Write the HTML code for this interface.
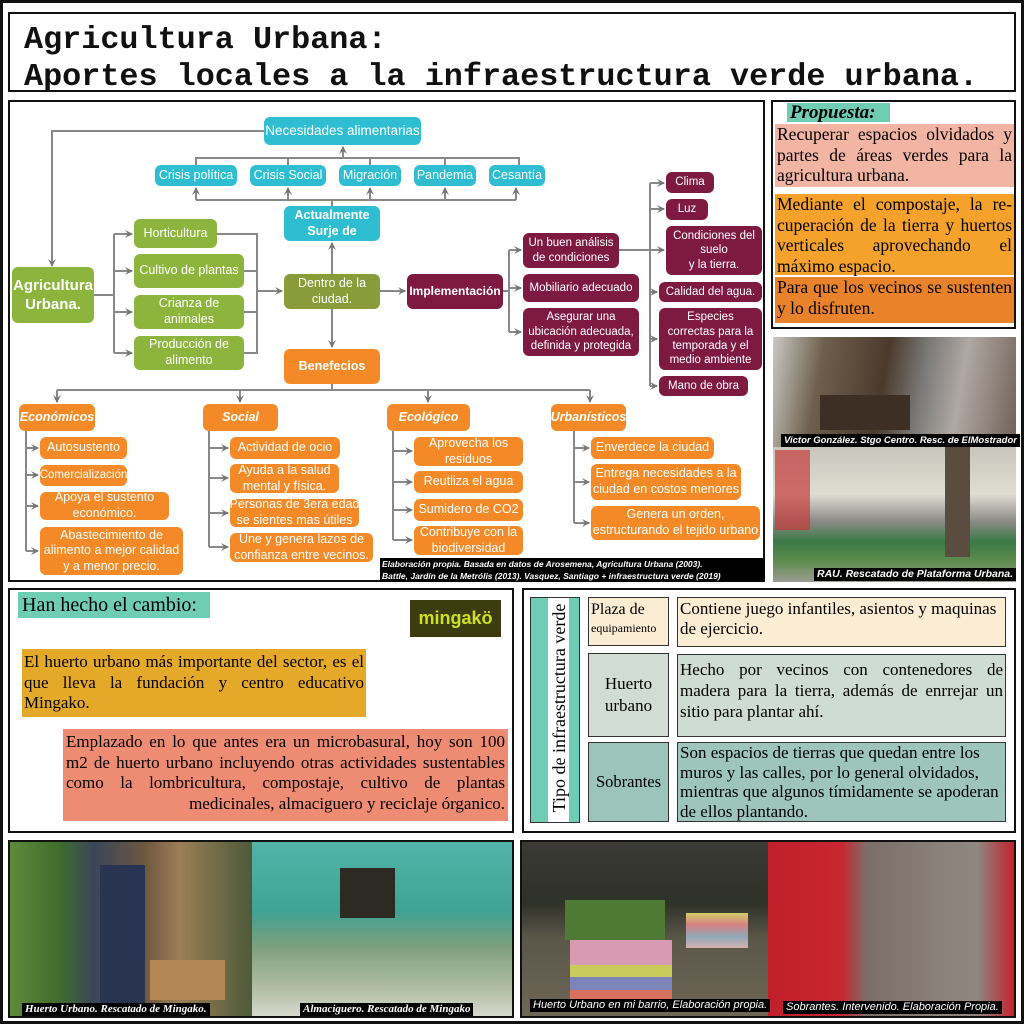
<!DOCTYPE html>
<html><head><meta charset="utf-8">
<style>
*{margin:0;padding:0;box-sizing:border-box}
body{width:1024px;height:1024px;position:relative;background:#fff;overflow:hidden;font-family:"Liberation Sans",sans-serif}
.a{position:absolute}
.box{position:absolute;border:2.5px solid #111;background:#fff}
.n{position:absolute;display:flex;align-items:center;justify-content:center;text-align:center;color:#fff;border-radius:6px;font-size:12.5px;line-height:1.25;white-space:nowrap}
.c{background:#2ebdd1}.g{background:#8db43c}.o{background:#8a9c3a}.m{background:#7e1a40}.f{background:#f48a27}
.ser{font-family:"Liberation Serif",serif}
.cap{position:absolute;background:#000;color:#fff;font-weight:bold;font-style:italic;font-size:10px;white-space:nowrap;padding:0 3px;line-height:13px}
.j{text-align:justify;text-align-last:left}
</style></head><body>
<div class="a" style="left:0;top:0;width:1024px;height:1024px;border:3px solid #111"></div>
<div class="box" style="left:8px;top:12px;width:1008px;height:80px"></div>
<div class="a" style="left:24px;top:22px;font-family:'Liberation Mono',monospace;font-weight:bold;font-size:31.8px;line-height:37px;white-space:pre;color:#111">Agricultura Urbana:
Aportes locales a la infraestructura verde urbana.</div>

<div class="box" style="left:8px;top:100px;width:757px;height:482px"></div>
<svg class="a" style="left:0;top:0" width="1024" height="1024">
<defs><marker id="ar" markerWidth="8" markerHeight="8" refX="7" refY="4" orient="auto" markerUnits="userSpaceOnUse"><path d="M0,0 L8,4 L0,8 L3,4z" fill="#777"/></marker></defs>
<g stroke="#888" stroke-width="2" fill="none">
<path d="M264,131 H52 V266" marker-end="url(#ar)"/>
<path d="M196,165 V158 H519 V165 M288,158 V165 M370,158 V165 M445,158 V165"/>
<path d="M343,158 V147" marker-end="url(#ar)"/>
<path d="M196,200 H516 M332,200 V206"/>
<path d="M196,200 V188" marker-end="url(#ar)"/><path d="M288,200 V188" marker-end="url(#ar)"/><path d="M370,200 V188" marker-end="url(#ar)"/><path d="M445,200 V188" marker-end="url(#ar)"/><path d="M516,200 V188" marker-end="url(#ar)"/>
<path d="M332,274 V243" marker-end="url(#ar)"/>
<path d="M332,309 V347" marker-end="url(#ar)"/>
<path d="M380,291 H405" marker-end="url(#ar)"/>
<path d="M94,295 H114 M114,234 V353"/>
<path d="M114,234 H132" marker-end="url(#ar)"/><path d="M114,271 H132" marker-end="url(#ar)"/><path d="M114,312 H132" marker-end="url(#ar)"/><path d="M114,353 H132" marker-end="url(#ar)"/>
<path d="M217,234 H257 V353 H244 M244,271 H257 M244,312 H257"/>
<path d="M257,291 H282" marker-end="url(#ar)"/>
<path d="M503,291 H509 M509,250 V332"/>
<path d="M509,250 H521" marker-end="url(#ar)"/><path d="M509,288 H521" marker-end="url(#ar)"/><path d="M509,332 H521" marker-end="url(#ar)"/>
<path d="M619,250 H664" marker-end="url(#ar)"/>
<path d="M650,183 V386"/>
<path d="M650,183 H664" marker-end="url(#ar)"/><path d="M650,209 H664" marker-end="url(#ar)"/><path d="M650,292 H657" marker-end="url(#ar)"/><path d="M650,339 H657" marker-end="url(#ar)"/><path d="M650,386 H657" marker-end="url(#ar)"/>
<path d="M332,384 V390 M57,390 H590"/>
<path d="M57,390 V402" marker-end="url(#ar)"/><path d="M240,390 V402" marker-end="url(#ar)"/><path d="M428,390 V402" marker-end="url(#ar)"/><path d="M590,390 V402" marker-end="url(#ar)"/>
<path d="M26,431 V551"/>
<path d="M26,448 H38" marker-end="url(#ar)"/><path d="M26,475 H38" marker-end="url(#ar)"/><path d="M26,506 H38" marker-end="url(#ar)"/><path d="M26,551 H38" marker-end="url(#ar)"/>
<path d="M209,431 V547"/>
<path d="M209,448 H228" marker-end="url(#ar)"/><path d="M209,478 H228" marker-end="url(#ar)"/><path d="M209,513 H228" marker-end="url(#ar)"/><path d="M209,547 H228" marker-end="url(#ar)"/>
<path d="M393,431 V540"/>
<path d="M393,451 H412" marker-end="url(#ar)"/><path d="M393,482 H412" marker-end="url(#ar)"/><path d="M393,510 H412" marker-end="url(#ar)"/><path d="M393,540 H412" marker-end="url(#ar)"/>
<path d="M574,431 V523"/>
<path d="M574,448 H589" marker-end="url(#ar)"/><path d="M574,482 H589" marker-end="url(#ar)"/><path d="M574,523 H589" marker-end="url(#ar)"/>
</g></svg>

<div class="n c" style="left:264px;top:117px;width:157px;height:28px;font-size:13.5px">Necesidades alimentarias</div>
<div class="n c" style="left:155px;top:165px;width:82px;height:21px">Crisis política</div>
<div class="n c" style="left:250px;top:165px;width:76px;height:21px">Crisis Social</div>
<div class="n c" style="left:339px;top:165px;width:62px;height:21px">Migración</div>
<div class="n c" style="left:414px;top:165px;width:62px;height:21px">Pandemia</div>
<div class="n c" style="left:489px;top:165px;width:56px;height:21px">Cesantía</div>
<div class="n c" style="left:284px;top:206px;width:96px;height:35px;font-weight:bold">Actualmente<br>Surje de</div>
<div class="n g" style="left:12px;top:267px;width:82px;height:56px;font-size:15px;font-weight:bold;line-height:1.3">Agricultura<br>Urbana.</div>
<div class="n g" style="left:134px;top:219px;width:83px;height:29px">Horticultura</div>
<div class="n g" style="left:134px;top:254px;width:110px;height:34px">Cultivo de plantas</div>
<div class="n g" style="left:134px;top:295px;width:110px;height:34px">Crianza de<br>animales</div>
<div class="n g" style="left:134px;top:336px;width:110px;height:34px">Producción de<br>alimento</div>
<div class="n o" style="left:284px;top:274px;width:96px;height:35px">Dentro de la<br>ciudad.</div>
<div class="n m" style="left:407px;top:274px;width:96px;height:35px;font-weight:bold;font-size:12px">Implementación</div>
<div class="n f" style="left:284px;top:349px;width:96px;height:35px;font-weight:bold">Benefecios</div>
<div class="n m" style="left:523px;top:233px;width:96px;height:35px;font-size:11.5px">Un buen análisis<br>de condiciones</div>
<div class="n m" style="left:523px;top:274px;width:116px;height:28px;font-size:11.5px">Mobiliario adecuado</div>
<div class="n m" style="left:523px;top:308px;width:116px;height:48px;font-size:11.5px">Asegurar una<br>ubicación adecuada,<br>definida y protegida</div>
<div class="n m" style="left:666px;top:172px;width:48px;height:21px;font-size:11.5px">Clima</div>
<div class="n m" style="left:666px;top:199px;width:42px;height:21px;font-size:11.5px">Luz</div>
<div class="n m" style="left:666px;top:226px;width:96px;height:49px;font-size:11.5px">Condiciones del<br>suelo<br>y la tierra.</div>
<div class="n m" style="left:659px;top:282px;width:103px;height:20px;font-size:11.5px">Calidad del agua.</div>
<div class="n m" style="left:659px;top:308px;width:103px;height:62px;font-size:11.5px">Especies<br>correctas para la<br>temporada y el<br>medio ambiente</div>
<div class="n m" style="left:659px;top:376px;width:89px;height:20px;font-size:11.5px">Mano de obra</div>

<div class="n f" style="left:19px;top:404px;width:76px;height:27px;font-style:italic;font-weight:bold">Económicos</div>
<div class="n f" style="left:203px;top:404px;width:75px;height:27px;font-style:italic;font-weight:bold">Social</div>
<div class="n f" style="left:387px;top:404px;width:83px;height:27px;font-style:italic;font-weight:bold">Ecológico</div>
<div class="n f" style="left:551px;top:404px;width:75px;height:27px;font-style:italic;font-weight:bold">Urbanísticos</div>
<div class="n f" style="left:40px;top:437px;width:87px;height:22px">Autosustento</div>
<div class="n f" style="left:40px;top:465px;width:87px;height:21px;font-size:11.5px">Comercialización</div>
<div class="n f" style="left:40px;top:492px;width:129px;height:28px">Apoya el sustento<br>económico.</div>
<div class="n f" style="left:40px;top:527px;width:143px;height:48px">Abastecimiento de<br>alimento a mejor calidad<br>y a menor precio.</div>
<div class="n f" style="left:230px;top:437px;width:110px;height:22px">Actividad de ocio</div>
<div class="n f" style="left:230px;top:464px;width:109px;height:29px">Ayuda a la salud<br>mental y física.</div>
<div class="n f" style="left:230px;top:499px;width:129px;height:28px">Personas de 3era edad<br>se sientes mas útiles</div>
<div class="n f" style="left:230px;top:533px;width:143px;height:29px">Une y genera lazos de<br>confianza entre vecinos.</div>
<div class="n f" style="left:414px;top:437px;width:109px;height:29px">Aprovecha los<br>residuos</div>
<div class="n f" style="left:414px;top:471px;width:109px;height:22px">Reutliza el agua</div>
<div class="n f" style="left:414px;top:499px;width:109px;height:22px">Sumidero de CO2</div>
<div class="n f" style="left:414px;top:526px;width:109px;height:29px">Contribuye con la<br>biodiversidad</div>
<div class="n f" style="left:591px;top:437px;width:123px;height:22px">Enverdece la ciudad</div>
<div class="n f" style="left:591px;top:464px;width:150px;height:36px">Entrega necesidades a la<br>ciudad en costos menores</div>
<div class="n f" style="left:591px;top:506px;width:169px;height:34px">Genera un orden,<br>estructurando el tejido urbano</div>
<div class="a" style="left:380px;top:558px;width:385px;height:24px;background:#000;color:#fff;font-size:8.5px;font-style:italic;font-weight:bold;line-height:12px;padding-left:2px;white-space:nowrap">Elaboración propia. Basada en datos de Arosemena, Agricultura Urbana (2003).<br>Battle, Jardín de la Metrólis (2013). Vasquez, Santiago + infraestructura verde (2019)</div>

<!-- Propuesta -->
<div class="box" style="left:771px;top:100px;width:245px;height:229px"></div>
<div class="a ser" style="left:787px;top:103px;width:103px;height:19px;background:#6fcdb4;font-size:19px;font-weight:bold;font-style:italic;line-height:19px;padding-left:3px">Propuesta:</div>
<div class="a ser j" style="left:775px;top:124px;width:239px;height:63px;background:#f2b5a4;font-size:17.5px;line-height:20.5px;padding:0 2px">Recuperar espacios olvidados y partes de áreas verdes para la agricultura urbana.</div>
<div class="a ser j" style="left:775px;top:194px;width:239px;height:81px;background:#f4a22b;font-size:17.5px;line-height:20.5px;padding:0 2px">Mediante el compostaje, la re&shy;cuperación de la tierra y huertos verticales aprovechando el máximo espacio.</div>
<div class="a ser j" style="left:775px;top:277px;width:239px;height:46px;background:#e8832b;font-size:17.5px;line-height:20.5px;padding:0 2px">Para que los vecinos se susten&shy;ten y lo disfruten.</div>

<!-- photos right -->
<div class="a" style="left:773px;top:337px;width:243px;height:110px;background:linear-gradient(100deg,#c9c9c4 0%,#6e5f4c 20%,#4a3a2c 45%,#7a7a78 60%,#b0a8a3 75%,#706058 100%)"></div>
<div class="a" style="left:820px;top:395px;width:90px;height:35px;background:#3d2f24"></div>
<div class="cap" style="left:781px;top:434px;font-size:9.5px">Victor González. Stgo Centro. Resc. de ElMostrador</div>
<div class="a" style="left:773px;top:447px;width:243px;height:135px;background:linear-gradient(180deg,#c8c6bc 0%,#e0ddd3 35%,#8c8b86 55%,#3b7a45 70%,#5e8d4e 85%,#9c9c94 100%)"></div>
<div class="a" style="left:775px;top:450px;width:35px;height:80px;background:#c43a3a;opacity:.7"></div>
<div class="a" style="left:945px;top:447px;width:25px;height:110px;background:#5a4c3e"></div>
<div class="cap" style="left:814px;top:568px;font-size:10.5px">RAU. Rescatado de Plataforma Urbana.</div>

<!-- Han hecho -->
<div class="box" style="left:8px;top:588px;width:506px;height:245px"></div>
<div class="a ser" style="left:18px;top:592px;width:192px;height:26px;background:#6fcdb4;font-size:20px;line-height:26px;padding-left:4px">Han hecho el cambio:</div>
<div class="a" style="left:410px;top:600px;width:91px;height:37px;background:#3d3c10;color:#cfe020;font-weight:bold;font-size:18px;line-height:37px;text-align:center">mingakö</div>
<div class="a ser j" style="left:22px;top:649px;width:344px;height:68px;background:#e5a92a;font-size:17px;line-height:20.5px;padding:3px 2px 0">El huerto urbano más importante del sector, es el que lleva la fundación y centro educativo Mingako.</div>
<div class="a ser j" style="left:63px;top:729px;width:445px;height:92px;background:#ee8b73;font-size:17px;line-height:20.5px;padding:3px 3px 0;text-align-last:right">Emplazado en lo que antes era un microbasural, hoy son 100 m2 de huerto urbano incluyendo otras actividades sustenta&shy;bles como la lombricultura, compostaje, cultivo de plantas medicinales, almaciguero y reciclaje órganico.</div>

<!-- Tipo -->
<div class="box" style="left:522px;top:588px;width:494px;height:245px"></div>
<div class="a" style="left:530px;top:597px;width:50px;height:226px;background:#6fcdb4;border:1px solid #333"></div>
<div class="a" style="left:548px;top:598px;width:21px;height:224px;background:#fff"></div>
<div class="a ser" style="left:446px;top:697px;width:226px;height:22px;transform:rotate(-90deg);font-size:18px;line-height:22px;text-align:center;white-space:nowrap">Tipo de infraestructura verde</div>
<div class="a ser" style="left:588px;top:597px;width:81px;height:49px;background:#fbedd3;border:1px solid #333;font-size:16px;line-height:18px;padding:3px 0 0 2px">Plaza de<br><span style="font-size:12px">equipamiento</span></div>
<div class="a ser" style="left:677px;top:597px;width:329px;height:50px;background:#fbedd3;border:1px solid #333;font-size:17px;line-height:20px;padding:1px 2px">Contiene juego infantiles, asientos y maqui&shy;nas de ejercicio.</div>
<div class="a ser" style="left:588px;top:653px;width:81px;height:84px;background:#d1dcd5;border:1px solid #333;font-size:17px;line-height:22px;display:flex;align-items:center;justify-content:center;text-align:center">Huerto<br>urbano</div>
<div class="a ser j" style="left:677px;top:654px;width:329px;height:83px;background:#cfdcd4;border:1px solid #333;font-size:17px;line-height:21px;padding:4px 2px">Hecho por vecinos con contenedores de madera para la tierra, además de enrrejar un sitio para plantar ahí.</div>
<div class="a ser" style="left:588px;top:742px;width:81px;height:80px;background:#9cc4bb;border:1px solid #333;font-size:16.5px;display:flex;align-items:center;justify-content:center">Sobrantes</div>
<div class="a ser" style="left:677px;top:742px;width:329px;height:80px;background:#9ec5bc;border:1px solid #333;font-size:17px;line-height:19.5px;padding:0 2px">Son espacios de tierras que quedan entre los muros y las calles, por lo general olvidados, mientras que algunos tímidamente se apode&shy;ran de ellos plantando.</div>

<!-- bottom photos -->
<div class="box" style="left:8px;top:840px;width:506px;height:178px;background:#222"></div>
<div class="a" style="left:10px;top:842px;width:242px;height:174px;background:linear-gradient(90deg,#5d8a3a 0%,#3f6d2b 20%,#3a4658 35%,#6c5640 55%,#9c7e55 70%,#4d5a3a 100%)"></div>
<div class="a" style="left:100px;top:865px;width:45px;height:140px;background:#283452"></div>
<div class="a" style="left:150px;top:960px;width:75px;height:40px;background:#b48854"></div>
<div class="a" style="left:252px;top:842px;width:260px;height:174px;background:linear-gradient(180deg,#52b4a8 0%,#3fa294 40%,#7d9f7c 60%,#b3bfa6 85%,#d6d8cc 100%)"></div>
<div class="a" style="left:340px;top:868px;width:55px;height:50px;background:#2d2a24"></div>
<div class="cap" style="left:22px;top:1003px;font-family:'Liberation Serif',serif;font-size:11px">Huerto Urbano. Rescatado de Mingako.</div>
<div class="cap" style="left:300px;top:1003px;font-family:'Liberation Serif',serif;font-size:11px">Almaciguero. Rescatado de Mingako</div>

<div class="box" style="left:520px;top:840px;width:496px;height:178px;background:#222"></div>
<div class="a" style="left:522px;top:842px;width:246px;height:174px;background:linear-gradient(180deg,#3b3a35 0%,#2e3128 35%,#5a5648 55%,#6e6657 100%)"></div>
<div class="a" style="left:570px;top:940px;width:102px;height:25px;background:#d89ab0"></div>
<div class="a" style="left:570px;top:965px;width:102px;height:12px;background:#c9cc5a"></div>
<div class="a" style="left:570px;top:977px;width:102px;height:13px;background:#7c84b8"></div>
<div class="a" style="left:570px;top:990px;width:102px;height:12px;background:#d87060"></div>
<div class="a" style="left:565px;top:900px;width:100px;height:40px;background:#4f7a36"></div>
<div class="a" style="left:686px;top:913px;width:62px;height:35px;background:linear-gradient(180deg,#cfcf6a,#d88080,#8fa8b8,#d4b0b0)"></div>
<div class="a" style="left:768px;top:842px;width:246px;height:174px;background:linear-gradient(90deg,#c0202a 0%,#c82630 30%,#7b6e68 40%,#8a817a 70%,#8f8781 85%,#c2242e 100%)"></div>
<div class="cap" style="left:530px;top:999px;font-weight:normal;font-size:11px">Huerto Urbano en mi barrio, Elaboración propia.</div>
<div class="cap" style="left:783px;top:1001px;font-weight:normal;font-size:11px">Sobrantes. Intervenido. Elaboración Propia.</div>
</body></html>
